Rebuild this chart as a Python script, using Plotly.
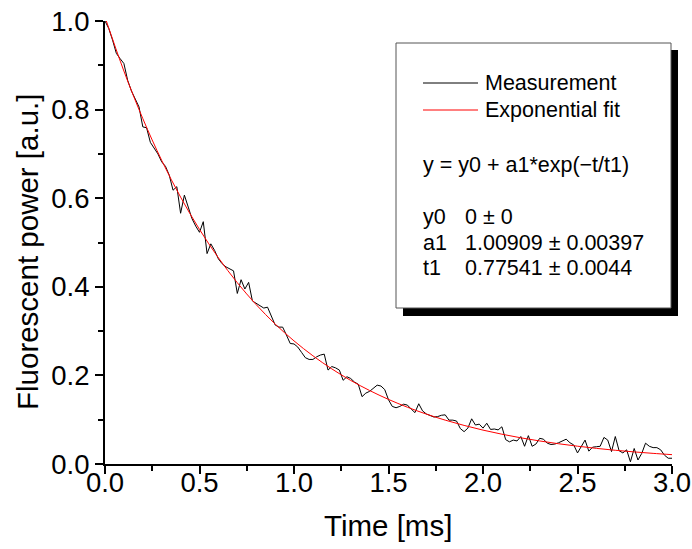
import plotly.graph_objects as go

T_STEP = 0.02
measurement = [
    1.000, 0.983, 0.957, 0.927, 0.915, 0.904, 0.866, 0.842, 0.824, 0.806,
    0.761, 0.759, 0.726, 0.712, 0.700, 0.682, 0.672, 0.652, 0.618, 0.626,
    0.566, 0.607, 0.579, 0.554, 0.537, 0.523, 0.547, 0.475, 0.497, 0.482,
    0.463, 0.452, 0.445, 0.441, 0.436, 0.385, 0.416, 0.395, 0.410, 0.368,
    0.362, 0.357, 0.352, 0.354, 0.332, 0.314, 0.309, 0.309, 0.291, 0.272,
    0.271, 0.264, 0.252, 0.240, 0.236, 0.236, 0.242, 0.246, 0.248, 0.212,
    0.220, 0.217, 0.212, 0.189, 0.197, 0.193, 0.185, 0.180, 0.152, 0.160,
    0.164, 0.172, 0.178, 0.176, 0.168, 0.145, 0.130, 0.127, 0.130, 0.135,
    0.133, 0.124, 0.116, 0.136, 0.120, 0.113, 0.110, 0.106, 0.107, 0.110,
    0.111, 0.099, 0.099, 0.097, 0.080, 0.073, 0.081, 0.102, 0.088, 0.090,
    0.081, 0.092, 0.078, 0.079, 0.077, 0.084, 0.055, 0.050, 0.054, 0.052,
    0.062, 0.040, 0.064, 0.040, 0.045, 0.058, 0.056, 0.047, 0.044, 0.045,
    0.048, 0.052, 0.056, 0.048, 0.043, 0.025, 0.038, 0.054, 0.029, 0.038,
    0.039, 0.040, 0.060, 0.054, 0.028, 0.062, 0.030, 0.025, 0.032, 0.005,
    0.035, 0.009, 0.024, 0.047, 0.040, 0.037, 0.037, 0.032, 0.020, 0.013,
    0.013,
]
t_meas = [round(i * T_STEP, 2) for i in range(len(measurement))]

# fitted curve, every 0.1 ms
fit_t = [0.0, 0.1, 0.2, 0.3, 0.4, 0.5, 0.6, 0.7, 0.8, 0.9, 1.0,
         1.1, 1.2, 1.3, 1.4, 1.5, 1.6, 1.7, 1.8, 1.9, 2.0,
         2.1, 2.2, 2.3, 2.4, 2.5, 2.6, 2.7, 2.8, 2.9, 3.0]
fit_y = [1.0091, 0.8870, 0.7797, 0.6853, 0.6024, 0.5295, 0.4655, 0.4092,
         0.3597, 0.3161, 0.2779, 0.2443, 0.2147, 0.1887, 0.1659, 0.1458,
         0.1282, 0.1127, 0.0990, 0.0871, 0.0765, 0.0673, 0.0591, 0.0520,
         0.0457, 0.0402, 0.0353, 0.0310, 0.0273, 0.0240, 0.0211]

legend_names = ["Measurement", "Exponential fit"]
equation = "y = y0 + a1*exp(\u2212t/t1)"
param_names = ["y0", "a1", "t1"]
param_values = ["0 \u00b1 0", "1.00909 \u00b1 0.00397", "0.77541 \u00b1 0.0044"]

FONT = "Liberation Sans, Arial, sans-serif"
W, H = 692, 549
# plot area in pixels: x 105..672, y 21..464
X_LEFT, X_RIGHT, Y_TOP, Y_BOT = 105, 672, 21, 464
L, T, R, B = X_LEFT, Y_TOP, W - X_RIGHT, H - Y_BOT
PW, PH = X_RIGHT - X_LEFT, Y_BOT - Y_TOP
BOX_FONT = 21.5
TICK_FONT = 27.5
TITLE_FONT = 29.5


def px(x, y):
    # pixel position -> paper coordinates
    return (x - X_LEFT) / PW, (Y_BOT - y) / PH


fig = go.Figure()
fig.add_trace(go.Scatter(x=t_meas, y=measurement, mode="lines",
                         line=dict(color="black", width=1), name=legend_names[0]))
fig.add_trace(go.Scatter(x=fit_t, y=fit_y, mode="lines", line_shape="spline",
                         line=dict(color="red", width=1), name=legend_names[1]))

shapes = []
annotations = []

# info box with drop shadow
x0, y0 = px(403, 50)
x1, y1 = px(678, 316)
shapes.append(dict(type="rect", xref="paper", yref="paper", x0=x0, y0=y1, x1=x1, y1=y0,
                   fillcolor="black", line=dict(width=0)))
x0, y0 = px(396, 43)
x1, y1 = px(671, 308)
shapes.append(dict(type="rect", xref="paper", yref="paper", x0=x0, y0=y1, x1=x1, y1=y0,
                   fillcolor="white", line=dict(color="#555555", width=1)))

for i, (name, col) in enumerate(zip(legend_names, ["black", "red"])):
    ly = 83 + 27 * i
    a, b = px(423, ly)
    c, _ = px(478, ly)
    shapes.append(dict(type="line", xref="paper", yref="paper", x0=a, y0=b, x1=c, y1=b,
                       line=dict(color=col, width=1)))
    tx, ty = px(483, ly)
    annotations.append(dict(x=tx, y=ty, xref="paper", yref="paper", text=name,
                            showarrow=False, xanchor="left", yanchor="middle",
                            font=dict(size=BOX_FONT, color="black", family=FONT)))

tx, ty = px(421, 165)
annotations.append(dict(x=tx, y=ty, xref="paper", yref="paper", text=equation,
                        showarrow=False, xanchor="left", yanchor="middle",
                        font=dict(size=BOX_FONT, color="black", family=FONT)))

for i, (pn, pv) in enumerate(zip(param_names, param_values)):
    py = 217 + 25.5 * i
    a, b = px(421, py)
    annotations.append(dict(x=a, y=b, xref="paper", yref="paper", text=pn,
                            showarrow=False, xanchor="left", yanchor="middle",
                            font=dict(size=BOX_FONT, color="black", family=FONT)))
    a, b = px(463, py)
    annotations.append(dict(x=a, y=b, xref="paper", yref="paper", text=pv,
                            showarrow=False, xanchor="left", yanchor="middle",
                            font=dict(size=BOX_FONT, color="black", family=FONT)))

# axis titles
a, b = px(388, 525)
annotations.append(dict(x=a, y=b, xref="paper", yref="paper", text="Time [ms]",
                        showarrow=False, xanchor="center", yanchor="middle",
                        font=dict(size=TITLE_FONT, color="black", family=FONT)))
a, b = px(27, 252)
annotations.append(dict(x=a, y=b, xref="paper", yref="paper", text="Fluorescent power [a.u.]",
                        showarrow=False, xanchor="center", yanchor="middle", textangle=-90,
                        font=dict(size=TITLE_FONT, color="black", family=FONT)))

axis_common = dict(
    showline=True, linecolor="black", linewidth=2, mirror=False,
    showgrid=False, zeroline=False, automargin=False,
    ticks="outside", ticklen=8, tickwidth=1.5, tickcolor="black",
    ticklabeloverflow="allow",
    tickformat=".1f", tickfont=dict(size=TICK_FONT, color="black", family=FONT),
)

fig.update_layout(
    width=W, height=H,
    margin=dict(l=L, r=R, t=T, b=B),
    paper_bgcolor="white", plot_bgcolor="white",
    showlegend=False,
    font=dict(family=FONT, color="black"),
    shapes=shapes, annotations=annotations,
    xaxis=dict(range=[0, 3], dtick=0.5, tick0=0, ticklabelstandoff=-15,
               minor=dict(dtick=0.25, ticks="outside", ticklen=5, tickwidth=1.5, tickcolor="black"),
               **axis_common),
    yaxis=dict(range=[0, 1.0], dtick=0.2, tick0=0,
               minor=dict(dtick=0.1, ticks="outside", ticklen=5, tickwidth=1.5, tickcolor="black"),
               **axis_common),
)

# the page body has a default 8px margin; drop it so the figure sits in the corner
fig.write_html("out.html", config={"displayModeBar": False},
               post_script="document.body.style.margin = '0';")
